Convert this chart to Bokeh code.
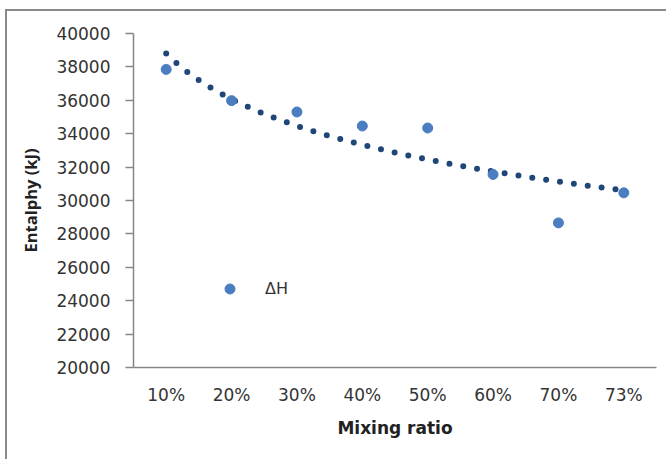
import numpy as np
from bokeh.plotting import figure
from bokeh.models import (Range1d, FixedTicker, ColumnDataSource, Legend, LegendItem)
from bokeh.embed import file_html
from bokeh.resources import INLINE

# ---- data ----
categories = ["10%", "20%", "30%", "40%", "50%", "60%", "70%", "73%"]
delta_h = [37850, 35980, 35300, 34460, 34340, 31560, 28660, 30460]
y_ticks = [20000, 22000, 24000, 26000, 28000, 30000, 32000, 34000, 36000, 38000, 40000]

xpos = list(range(1, len(categories) + 1))

# logarithmic trendline fitted to the data (as the spreadsheet trendline does)
coef = np.polyfit(np.log(xpos), delta_h, 1)
xt = np.linspace(1, len(categories), 200)
yt = coef[0] * np.log(xt) + coef[1]

p = figure(width=661, height=450, output_backend="svg", toolbar_location=None,
           x_range=Range1d(0.5, len(categories) + 0.5), y_range=Range1d(20000, 40000),
           min_border_left=126, min_border_right=12, min_border_top=22, min_border_bottom=94)
p.background_fill_color = "white"
p.border_fill_color = "white"
p.outline_line_color = None
p.xgrid.grid_line_color = None
p.ygrid.grid_line_color = None
# outer frame of the chart (only top and left edges visible)
p.styles = {"border-top": "2px solid #8a8a8a", "border-left": "2px solid #8a8a8a",
            "margin-left": "5px", "margin-top": "9px"}

FONT_T = "DejaVu Sans"
TXT = "#333333"

# y axis
ya = p.yaxis[0]
ya.ticker = FixedTicker(ticks=y_ticks)
ya.axis_line_color = "#868686"
ya.axis_line_width = 1.5
ya.major_tick_line_color = "#868686"
ya.major_tick_line_width = 1.5
ya.major_tick_out = 8
ya.major_tick_in = 0
ya.minor_tick_line_color = None
ya.major_label_standoff = 15
ya.major_label_text_font = FONT_T
ya.major_label_text_font_size = "17px"
ya.major_label_text_color = TXT
ya.axis_label = "Entalphy (kJ)"
ya.axis_label_text_font = "Open Sans"
ya.axis_label_text_font_style = "bold"
ya.axis_label_text_font_size = "16.5px"
ya.axis_label_text_color = "#222222"
ya.axis_label_standoff = 11

# x axis
xa = p.xaxis[0]
xa.ticker = FixedTicker(ticks=xpos)
xa.major_label_overrides = {i: c for i, c in zip(xpos, categories)}
xa.axis_line_color = "#868686"
xa.axis_line_width = 1.5
xa.major_tick_line_color = None
xa.major_tick_out = 0
xa.major_tick_in = 0
xa.minor_tick_line_color = None
xa.major_label_standoff = 17
xa.major_label_text_font = FONT_T
xa.major_label_text_font_size = "17px"
xa.major_label_text_color = TXT
xa.axis_label = "Mixing ratio"
xa.axis_label_text_font = "DejaVu Sans"
xa.axis_label_text_font_style = "bold"
xa.axis_label_text_font_size = "17px"
xa.axis_label_text_color = "#222222"
xa.axis_label_standoff = 10

# trendline (round dots)
p.line(xt, yt, line_color="#1F4679", line_width=6, line_dash="0 14", line_cap="round")

# data points
src = ColumnDataSource(dict(x=xpos, y=delta_h))
pts = p.scatter("x", "y", source=src, size=10, fill_color="#4A7EC1", line_color="#4A7EC1")

legend = Legend(items=[LegendItem(label="ΔH", renderers=[pts])], location=(84, 66))
legend.background_fill_alpha = 0
legend.border_line_color = None
legend.padding = 0
legend.margin = 0
legend.spacing = 0
legend.glyph_width = 25
legend.glyph_height = 25
legend.label_standoff = 23
legend.label_text_font = FONT_T
legend.label_text_font_size = "16px"
legend.label_text_color = TXT
p.add_layout(legend, "center")

open("out.html", "w").write(file_html(p, INLINE))
